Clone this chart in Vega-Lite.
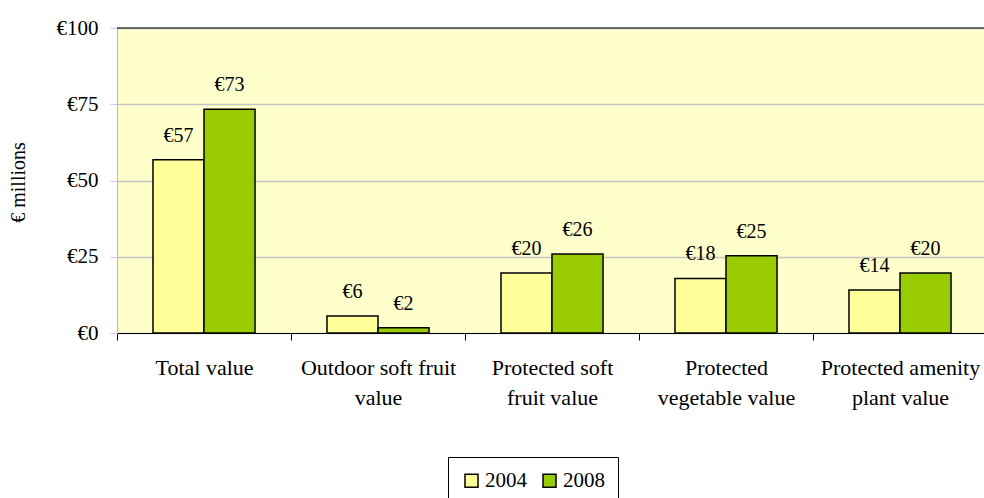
{
  "$schema": "https://vega.github.io/schema/vega-lite/v6.json",
  "width": 870,
  "height": 305,
  "autosize": "none",
  "padding": {"left": 117, "top": 28, "right": 0, "bottom": 165},
  "background": "white",
  "config": {
    "locale": {
      "number": {"decimal": ".", "thousands": ",", "grouping": [3], "currency": ["€", ""]}
    },
    "font": "Liberation Serif",
    "view": {"fill": "#FFFFCC", "stroke": null}
  },
  "data": {
    "values": [
      {"category": "Total value", "year": "2004", "value": 56.8},
      {"category": "Total value", "year": "2008", "value": 73.4},
      {"category": "Outdoor soft fruit value", "year": "2004", "value": 5.6},
      {"category": "Outdoor soft fruit value", "year": "2008", "value": 1.7},
      {"category": "Protected soft fruit value", "year": "2004", "value": 19.7},
      {"category": "Protected soft fruit value", "year": "2008", "value": 25.9},
      {"category": "Protected vegetable value", "year": "2004", "value": 17.9},
      {"category": "Protected vegetable value", "year": "2008", "value": 25.3},
      {"category": "Protected amenity plant value", "year": "2004", "value": 14.1},
      {"category": "Protected amenity plant value", "year": "2008", "value": 19.7}
    ]
  },
  "layer": [
    {
      "mark": {"type": "bar", "stroke": "black", "strokeWidth": 1.5},
      "encoding": {
        "x": {
          "field": "category", "type": "nominal", "sort": null,
          "scale": {"paddingInner": 0, "paddingOuter": 0},
          "axis": {
            "title": null, "labelAngle": 0, "labelFontSize": 22, "labelColor": "black",
            "labelFont": "Liberation Serif",
            "domainColor": "black", "tickColor": "black", "tickSize": 7,
            "labelPadding": 17, "labelLineHeight": 30, "tickBand": "extent", "grid": false,
            "labelExpr": "datum.label == 'Outdoor soft fruit value' ? ['Outdoor soft fruit','value'] : datum.label == 'Protected soft fruit value' ? ['Protected soft','fruit value'] : datum.label == 'Protected vegetable value' ? ['Protected','vegetable value'] : datum.label == 'Protected amenity plant value' ? ['Protected amenity','plant value'] : datum.label"
          }
        },
        "xOffset": {"field": "year", "type": "nominal", "scale": {"paddingOuter": 0.705, "paddingInner": 0}},
        "y": {
          "field": "value", "type": "quantitative",
          "scale": {"domain": [0, 100]},
          "axis": {
            "title": "€ millions", "values": [0, 25, 50, 75, 100], "format": "$.0f",
            "labelFontSize": 21, "labelPadding": 12, "tickSize": 7, "labelColor": "black",
            "labelFont": "Liberation Serif",
            "tickColor": "#C8C8F0", "domainColor": "#B4B4D0", "gridColor": "#C4C4C4", "gridWidth": 1.5,
            "titleFontSize": 20, "titleFontWeight": "normal", "titleFont": "Liberation Serif",
            "titleX": -99, "titleY": 154, "titleAngle": -90, "titleAlign": "center",
            "titleBaseline": "middle", "titleColor": "black"
          }
        },
        "color": {
          "field": "year", "type": "nominal",
          "scale": {"domain": ["2004", "2008"], "range": ["#FFFF99", "#99CC00"]},
          "legend": {
            "title": null, "orient": "none", "legendX": 331, "legendY": 429,
            "direction": "horizontal", "strokeColor": "black", "fillColor": "white", "padding": 13,
            "symbolType": "square", "symbolSize": 169, "symbolStrokeColor": "black",
            "symbolStrokeWidth": 1.5, "labelFontSize": 21, "labelFont": "Liberation Serif",
            "labelColor": "black", "labelOffset": 3, "columnPadding": 12
          }
        }
      }
    },
    {
      "mark": {"type": "text", "dy": -18, "baseline": "alphabetic", "fontSize": 20, "font": "Liberation Serif", "color": "black"},
      "encoding": {
        "x": {"field": "category", "type": "nominal", "sort": null},
        "xOffset": {"field": "year", "type": "nominal"},
        "y": {"field": "value", "type": "quantitative"},
        "text": {"field": "value", "type": "quantitative", "format": "$.0f"}
      }
    },
    {
      "data": {"values": [{"v": 100}]},
      "mark": {"type": "rule", "color": "#404040", "strokeWidth": 1.5},
      "encoding": {
        "y": {"field": "v", "type": "quantitative"}
      }
    }
  ]
}
